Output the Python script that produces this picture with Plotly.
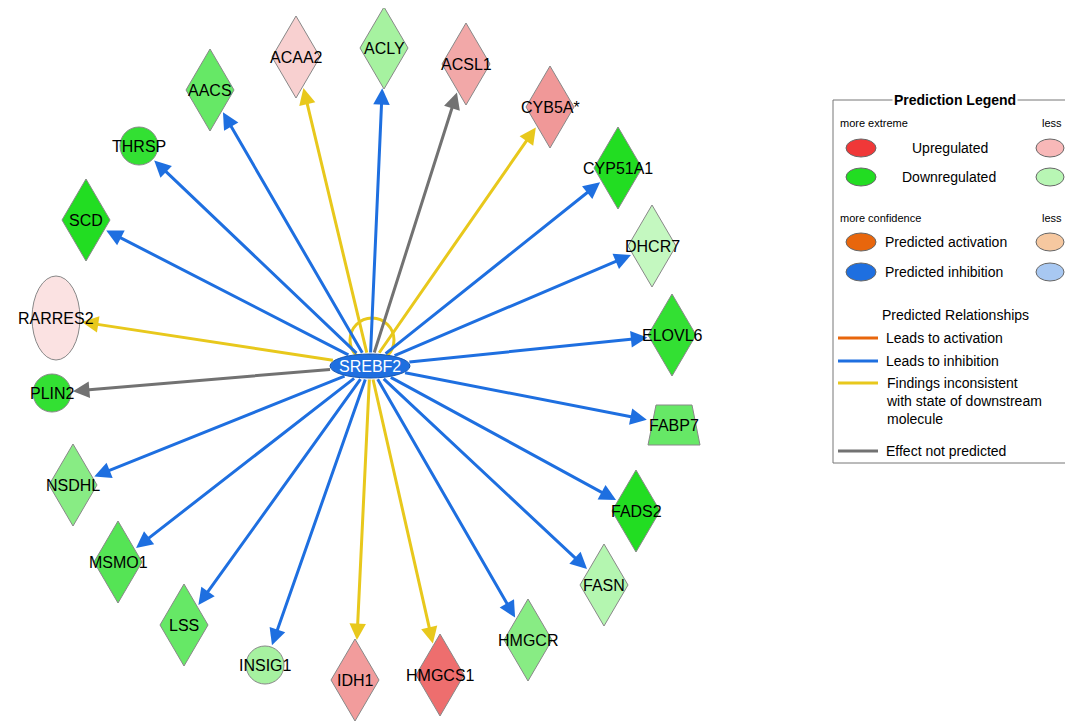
import math
import plotly.graph_objects as go

# node data (pixel coordinates)
names = ["ACAA2", "ACLY", "ACSL1", "CYB5A*", "CYP51A1", "DHCR7", "ELOVL6", "FABP7",
         "FADS2", "FASN", "HMGCR", "HMGCS1", "IDH1", "INSIG1", "LSS", "MSMO1",
         "NSDHL", "PLIN2", "RARRES2", "SCD", "THRSP", "AACS"]
node_x = [296, 384, 466, 550, 618, 652, 672, 674, 636, 604, 528, 440, 355, 265, 184, 118,
          73, 52, 56, 86, 139, 210]
node_y = [57, 48, 64, 107, 168, 246, 335, 425, 511, 585, 640, 675, 680, 665, 625, 562,
          485, 393, 318, 220, 146, 90]
shapes_kind = ["diamond", "diamond", "diamond", "diamond", "diamond", "diamond", "diamond", "trap",
               "diamond", "diamond", "diamond", "diamond", "diamond", "circle", "diamond", "diamond",
               "diamond", "circle", "ellipse", "diamond", "circle", "diamond"]
fills = ["#f8d0d0", "#a6f2a0", "#f2a8a8", "#f09898", "#22dd22", "#c4f8c0", "#33e033", "#66e866",
         "#22dd22", "#b4f6b0", "#88ec84", "#ee6e6e", "#f29c9c", "#a6f2a0", "#66e866", "#55e455",
         "#88ec84", "#33e033", "#fbe2e2", "#22dd22", "#33e033", "#66e866"]
edge_kind = ["yellow", "blue", "gray", "yellow", "blue", "blue", "blue", "blue",
             "blue", "blue", "blue", "yellow", "yellow", "blue", "blue", "blue",
             "blue", "gray", "yellow", "blue", "blue", "blue"]
edge_colors = {"blue": "#1e6fe0", "yellow": "#e8c81c", "gray": "#727272"}
hub = ("SREBF2", 370, 366)

HALF = {"diamond": (24, 41), "trap": (26, 20), "circle": (19, 19), "ellipse": (24, 42)}

shapes = []
ann = []
fig = go.Figure()

def boundary(kind, dx, dy):
    a, b = HALF[kind]
    if kind == "diamond":
        return 1 / (abs(dx) / a + abs(dy) / b)
    return 1 / math.sqrt((dx / a) ** 2 + (dy / b) ** 2)

hx, hy = hub[1], hub[2]
# edges
for n, x, y, k, e in zip(names, node_x, node_y, shapes_kind, edge_kind):
    d = math.hypot(x - hx, y - hy)
    ux, uy = (x - hx) / d, (y - hy) / d
    r = boundary(k, ux, uy) + 2
    ex, ey = x - ux * r, y - uy * r
    r0 = 1 / math.sqrt((ux / 40) ** 2 + (uy / 12) ** 2)
    ann.append(dict(x=ex, y=ey, ax=hx + ux * r0, ay=hy + uy * r0, xref="x", yref="y",
                    axref="x", ayref="y",
                    showarrow=True, arrowhead=2, arrowsize=1.1, arrowwidth=3,
                    arrowcolor=edge_colors[e], text=""))
# self loop
shapes.append(dict(type="circle", x0=350, x1=394, y0=318, y1=362,
                   line=dict(color="#e8c81c", width=3), layer="below"))

# nodes
for n, x, y, k, f in zip(names, node_x, node_y, shapes_kind, fills):
    a, b = HALF[k]
    line = dict(color="#888888", width=1)
    if k == "diamond":
        p = f"M {x},{y-b} L {x+a},{y} L {x},{y+b} L {x-a},{y} Z"
        shapes.append(dict(type="path", path=p, fillcolor=f, line=line))
    elif k == "trap":
        p = f"M {x-18},{y-b} L {x+18},{y-b} L {x+a},{y+b} L {x-a},{y+b} Z"
        shapes.append(dict(type="path", path=p, fillcolor=f, line=line))
    else:
        shapes.append(dict(type="circle", x0=x - a, x1=x + a, y0=y - b, y1=y + b,
                           fillcolor=f, line=line))
    ann.append(dict(x=x, y=y, text=n, showarrow=False, xref="x", yref="y",
                    font=dict(size=16, color="black")))

shapes.append(dict(type="circle", x0=hx - 40, x1=hx + 40, y0=hy - 12, y1=hy + 12,
                   fillcolor="#1e6fe0", line=dict(color="#1555b0", width=1)))
ann.append(dict(x=hx, y=hy, text="SREBF2", showarrow=False, font=dict(size=16, color="white")))

# prediction legend
shapes.append(dict(type="rect", x0=833, x1=1080, y0=100, y1=463,
                   line=dict(color="#777777", width=1), fillcolor="white"))
ann.append(dict(x=955, y=100, text="<b>Prediction Legend</b>", showarrow=False,
                bgcolor="white", font=dict(size=14, color="black")))
small = [("more extreme", 838, 123), ("less", 1040, 123),
         ("more confidence", 838, 218), ("less", 1040, 218)]
for t, x, y in small:
    ann.append(dict(x=x, y=y, text=t, showarrow=False, xanchor="left",
                    font=dict(size=11, color="black")))
legend_rows = [("Upregulated", 148, "#f03838", "#f8b8b8", 910),
               ("Downregulated", 177, "#22dd22", "#b8f6b4", 900),
               ("Predicted activation", 242, "#e8660c", "#f6c8a0", 883),
               ("Predicted inhibition", 272, "#1e6fe0", "#a8c8f2", 883)]
for t, y, c1, c2, tx in legend_rows:
    shapes.append(dict(type="circle", x0=846, x1=876, y0=y - 9, y1=y + 9,
                       fillcolor=c1, line=dict(color="#666", width=1)))
    shapes.append(dict(type="circle", x0=1036, x1=1064, y0=y - 9, y1=y + 9,
                       fillcolor=c2, line=dict(color="#666", width=1)))
    ann.append(dict(x=tx, y=y, text=t, showarrow=False, xanchor="left",
                    font=dict(size=14, color="black")))
ann.append(dict(x=955, y=315, text="Predicted Relationships", showarrow=False,
                font=dict(size=14, color="black")))
rel_rows = [("Leads to activation", 338, "#e8660c"), ("Leads to inhibition", 361, "#1e6fe0"),
            ("Findings inconsistent<br>with state of downstream<br>molecule", 383, "#e8c81c"),
            ("Effect not predicted", 451, "#727272")]
for t, y, c in rel_rows:
    shapes.append(dict(type="line", x0=838, x1=878, y0=y, y1=y, line=dict(color=c, width=3)))
    ann.append(dict(x=884, y=y - 10, text=t, showarrow=False, xanchor="left", yanchor="top",
                    align="left", font=dict(size=14, color="black")))

fig.update_layout(
    width=1073, height=722, margin=dict(l=0, r=0, t=0, b=0),
    plot_bgcolor="white", paper_bgcolor="white",
    xaxis=dict(range=[8, 1081], visible=False),
    yaxis=dict(range=[730, 8], visible=False),
    shapes=shapes, annotations=ann, showlegend=False,
    font=dict(family="Liberation Sans"),
)
fig.write_html("out.html")
